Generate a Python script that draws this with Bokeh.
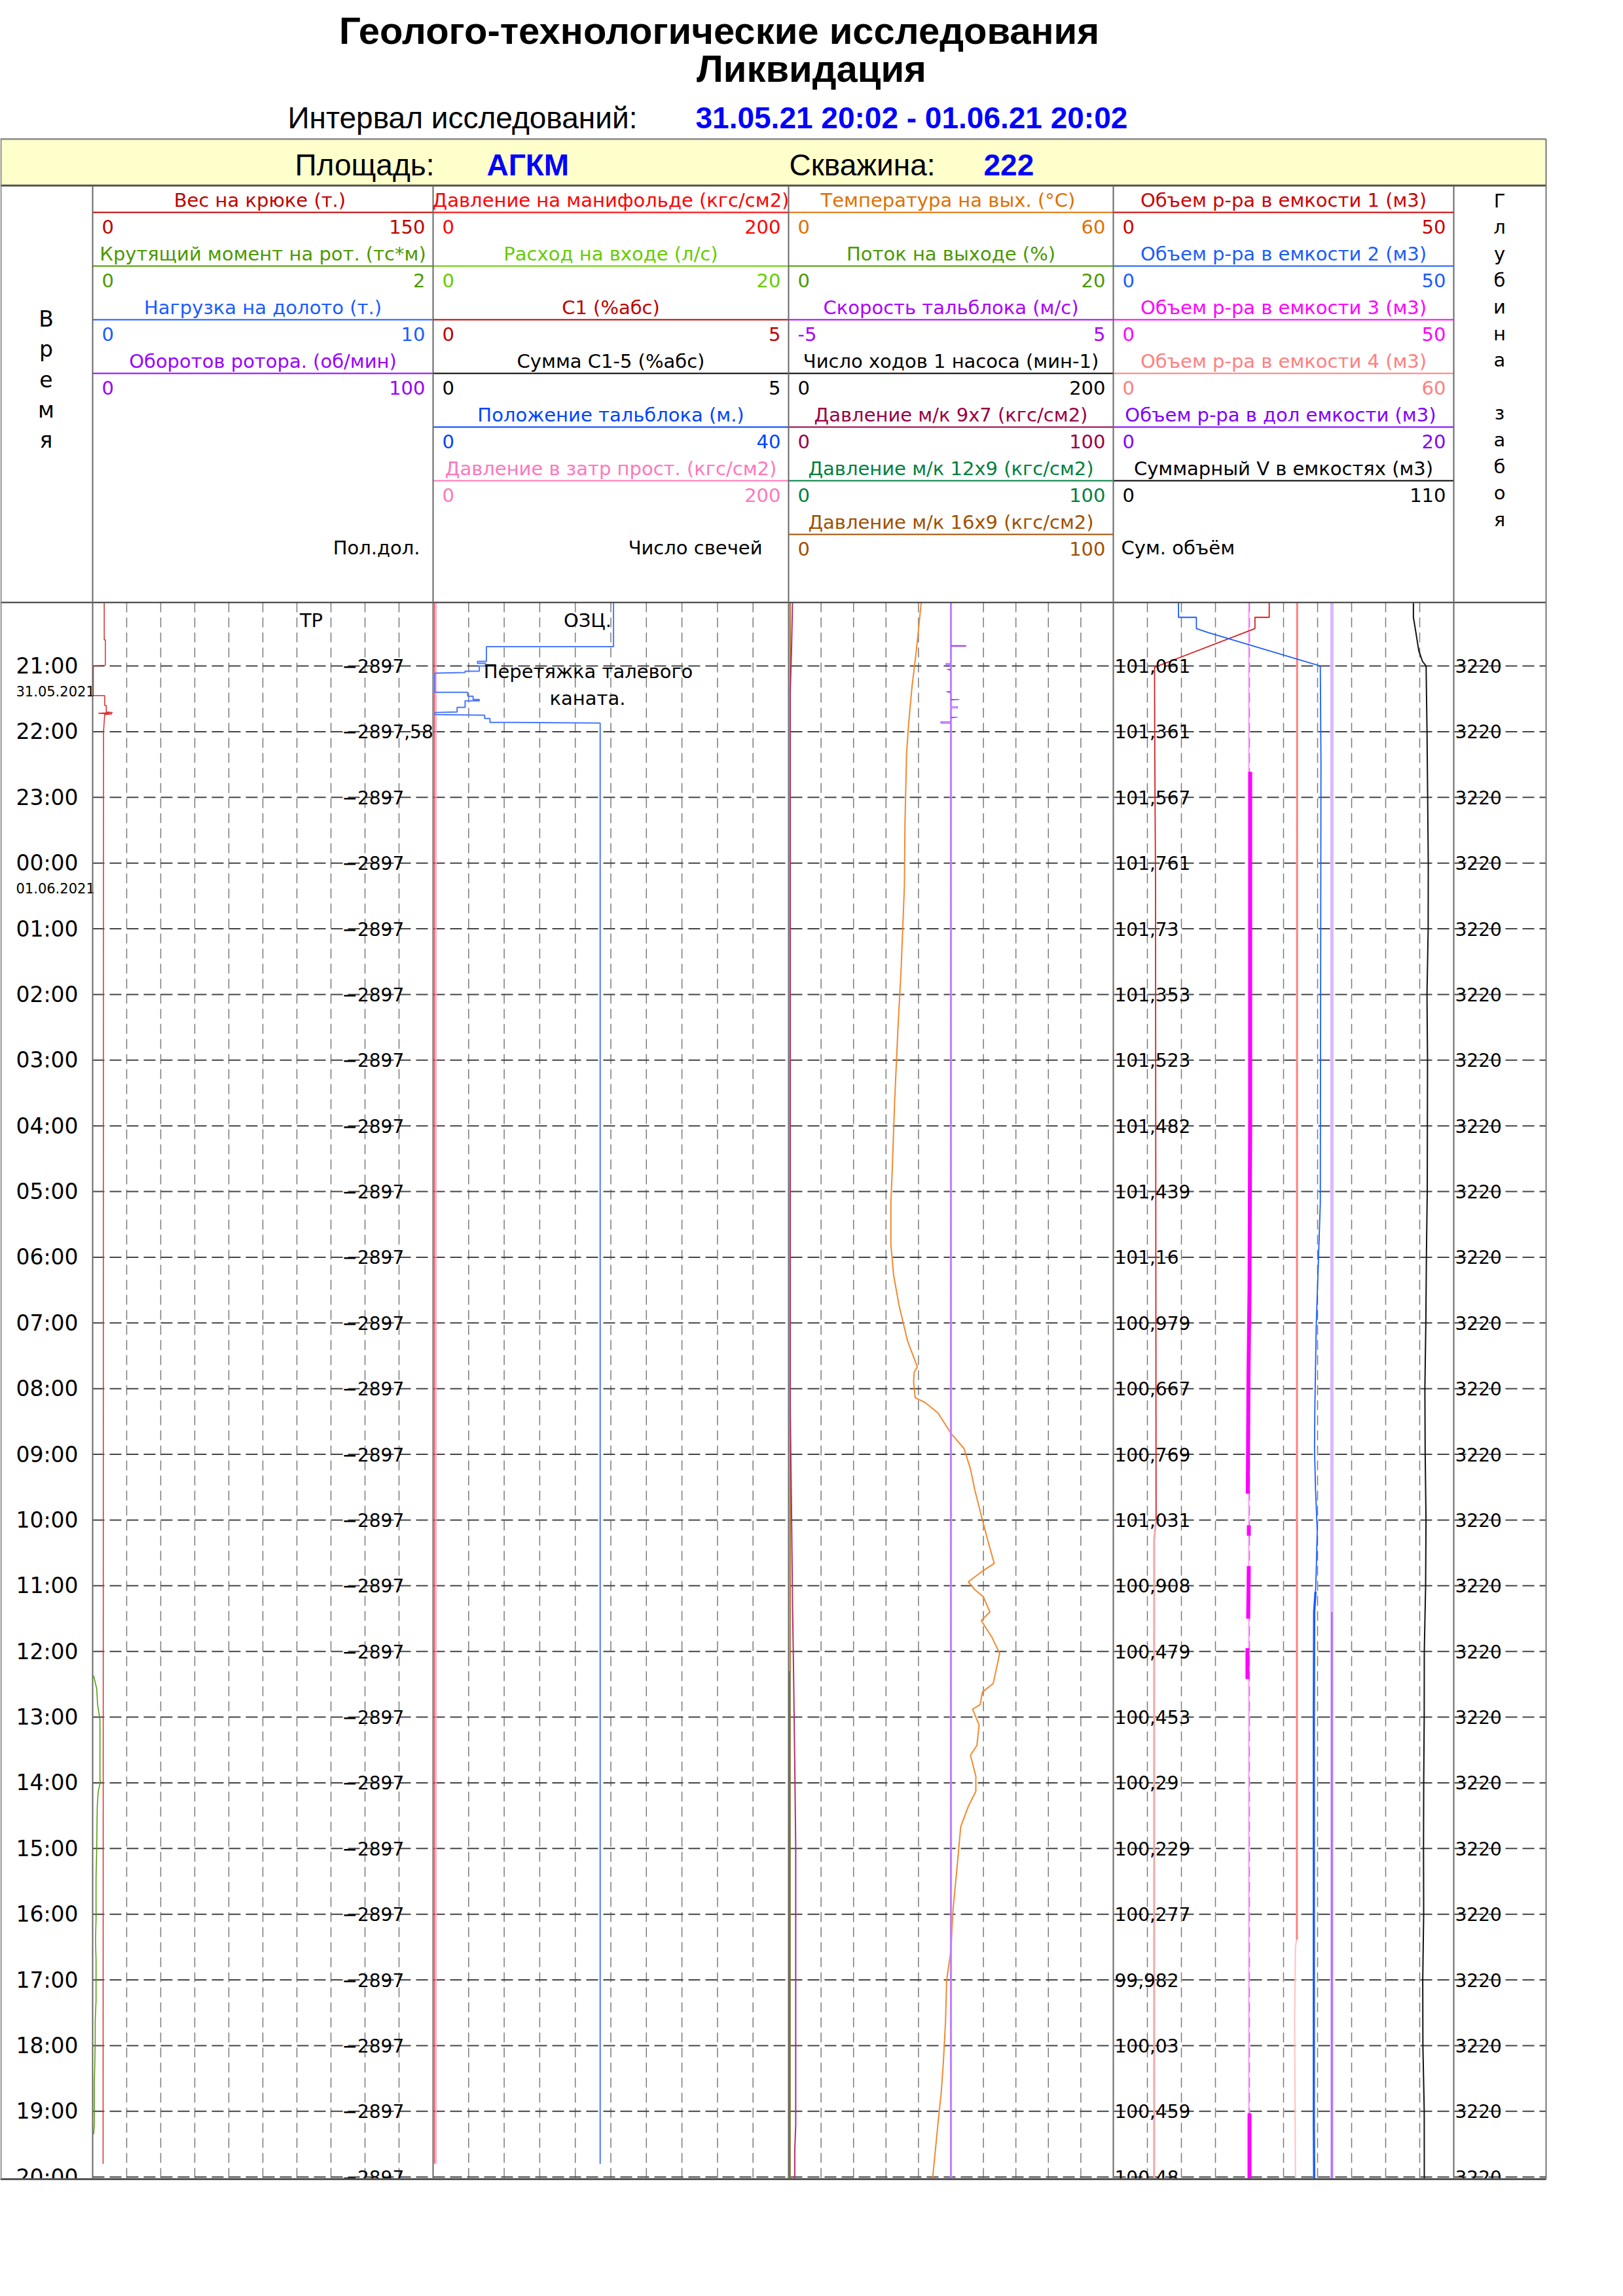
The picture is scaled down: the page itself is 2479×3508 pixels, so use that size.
from bokeh.plotting import figure
from bokeh.models import Range1d
from bokeh.embed import file_html
from bokeh.resources import INLINE
from bokeh.core.properties import value

W, H = 2479, 3508

# ---------------- data (hours counted from 20:00 31.05.2021) ----------------
hour_t = list(range(1, 25))
hour_labels = ["21:00", "22:00", "23:00", "00:00", "01:00", "02:00", "03:00", "04:00",
               "05:00", "06:00", "07:00", "08:00", "09:00", "10:00", "11:00", "12:00",
               "13:00", "14:00", "15:00", "16:00", "17:00", "18:00", "19:00", "20:00"]
date_labels = ["31.05.2021", "01.06.2021"]
date_t = [1.38, 4.38]
bit_pos = ["−2897", "−2897,58"] + ["−2897"] * 22
sum_vol = [101.061, 101.361, 101.567, 101.761, 101.73, 101.353, 101.523, 101.482,
           101.439, 101.16, 100.979, 100.667, 100.769, 101.031, 100.908, 100.479,
           100.453, 100.29, 100.229, 100.277, 99.982, 100.03, 100.459, 100.48]
depth = ["3220"] * 24

event_text = ["ТР", "ОЗЦ.", "Перетяжка талевого", "каната."]
event_t = [0.31, 0.31, 1.08, 1.49]

# header rows per track: (title, scale min, scale max, colour)
track1 = [("Вес на крюке  (т.)", 0, 150, "#c00000"),
          ("Крутящий момент на рот. (тс*м)", 0, 2, "#4c9900"),
          ("Нагрузка на долото (т.)", 0, 10, "#1a5cff"),
          ("Оборотов ротора. (об/мин)", 0, 100, "#9900ff")]
track2 = [("Давление на манифольде (кгс/см2)", 0, 200, "#ff0000"),
          ("Расход на входе (л/с)", 0, 20, "#66cc00"),
          ("C1 (%абс)", 0, 5, "#c00000"),
          ("Сумма C1-5 (%абс)", 0, 5, "#000000"),
          ("Положение тальблока (м.)", 0, 40, "#0044ff"),
          ("Давление в затр прост. (кгс/см2)", 0, 200, "#ff77bb")]
track3 = [("Температура  на вых. (°C)", 0, 60, "#e07000"),
          ("Поток на выходе (%)", 0, 20, "#4a9900"),
          ("Скорость тальблока (м/с)", -5, 5, "#aa00ff"),
          ("Число ходов 1 насоса (мин-1)", 0, 200, "#000000"),
          ("Давление м/к 9x7 (кгс/см2)", 0, 100, "#990044"),
          ("Давление м/к 12x9 (кгс/см2)", 0, 100, "#008040"),
          ("Давление м/к 16x9 (кгс/см2)", 0, 100, "#a05000")]
track4 = [("Объем р-ра в емкости 1 (м3)", 0, 50, "#cc0000"),
          ("Объем р-ра в емкости 2 (м3)", 0, 50, "#1a5cff"),
          ("Объем р-ра в емкости 3 (м3)", 0, 50, "#ff00ff"),
          ("Объем р-ра в емкости 4 (м3)", 0, 60, "#ff8080"),
          ("Объем р-ра в дол емкости  (м3)", 0, 20, "#8000ff"),
          ("Суммарный V в емкостях (м3)", 0, 110, "#000000")]
track_footer = ["Пол.дол.", "Число свечей", None, "Сум. объём"]

# curves: (time h, value)
hook = [(0.04, 5.1), (0.6, 5.1), (0.6, 5.6), (0.99, 5.6), (1.0, 0.3), (1.45, 0.3),
        (1.45, 5.3), (1.6, 5.3), (1.6, 6.0), (1.7, 6.0), (1.71, 8.8), (1.72, 2.5),
        (1.73, 8.5), (1.74, 5.3), (2.0, 4.8), (12.0, 4.7), (23.8, 4.6)]
torque = [(16.37, 0.006), (16.57, 0.024), (16.81, 0.029), (17.04, 0.043), (17.97, 0.043),
          (17.97, 0.047), (18.13, 0.033), (18.36, 0.027), (18.99, 0.024), (19.45, 0.020),
          (20.08, 0.020), (20.39, 0.017), (20.70, 0.020), (21.32, 0.020), (21.63, 0.015),
          (21.94, 0.015), (22.26, 0.013), (22.57, 0.010), (23.19, 0.010), (23.35, 0.006)]
manif = [(0.04, 0.8), (23.8, 0.8)]
annulus = [(0.04, 1.6), (23.8, 1.6)]
block_pos = [(0.04, 20.3), (0.707, 20.3), (0.707, 6.0), (0.93, 6.0), (0.93, 5.0), (0.96, 5.0),
             (0.96, 5.9), (1.0, 5.9), (1.0, 5.2), (1.08, 5.2), (1.08, 3.6), (1.10, 3.6),
             (1.11, 0.2), (1.40, 0.2), (1.40, 3.9), (1.46, 3.9), (1.46, 4.5), (1.51, 4.5),
             (1.51, 5.2), (1.53, 5.2), (1.53, 3.6), (1.63, 3.6), (1.63, 2.7), (1.70, 2.7),
             (1.71, 0.2), (1.74, 0.2), (1.75, 5.8), (1.80, 5.8), (1.80, 6.4), (1.86, 6.4),
             (1.86, 9.4), (1.87, 18.8), (23.8, 18.8)]
temperature = [(0.04, 24.5), (0.77, 23.6), (1.32, 22.8), (1.86, 22.2), (2.33, 21.8), (3.42, 21.5),
               (4.35, 21.4), (5.60, 20.8), (6.53, 20.2), (7.62, 19.6), (8.56, 19.2), (9.18, 18.9),
               (9.80, 18.9), (10.27, 19.4), (10.73, 20.4), (11.28, 22.0), (11.67, 23.8), (11.75, 23.2),
               (11.90, 23.1), (12.14, 23.4), (12.21, 25.2), (12.37, 27.6), (12.68, 30.0), (12.91, 32.4),
               (13.22, 33.6), (13.54, 34.4), (13.93, 35.6), (14.31, 36.8), (14.66, 38.0), (14.78, 35.8),
               (14.94, 33.2), (15.06, 34.4), (15.17, 36.0), (15.40, 37.2), (15.53, 35.6), (15.79, 37.6),
               (16.03, 39.0), (16.49, 37.8), (16.62, 35.8), (16.81, 35.4), (16.88, 34.0), (17.12, 35.2),
               (17.43, 34.8), (17.58, 33.6), (17.90, 34.6), (18.13, 34.6), (18.36, 33.2), (18.67, 31.8),
               (19.22, 31.2), (19.92, 30.4), (20.54, 30.0), (21.01, 29.2), (21.63, 29.0), (22.25, 28.6),
               (22.72, 28.2), (23.19, 27.6), (24.03, 26.6)]
block_speed = [(0.04, 0), (0.69, 0), (0.69, 0.46), (0.70, 0.46), (0.70, 0), (0.96, 0), (0.96, -0.15),
               (0.98, -0.15), (0.98, 0), (1.05, 0), (1.05, -0.12), (1.07, 0), (1.39, 0), (1.39, -0.14),
               (1.41, 0), (1.51, 0), (1.51, 0.26), (1.52, 0), (1.62, 0), (1.62, 0.2), (1.64, 0.2),
               (1.64, 0), (1.78, 0), (1.78, 0.2), (1.79, 0), (1.85, 0), (1.85, -0.31), (1.87, -0.31),
               (1.87, 0), (24.03, 0)]
p_9x7 = [(0.04, 1.2), (0.77, 0.9), (1.4, 0.5), (12.3, 0.5), (13.85, 0.9), (15.25, 1.2),
         (16.2, 1.5), (17.7, 1.9), (19.0, 2.2), (23.2, 2.2), (23.6, 1.9), (24.03, 1.9)]
p_12x9 = [(16.3, 0.3), (24.03, 0.3)]
p_16x9 = [(0.04, 0.5), (24.03, 0.5)]
vol1 = [(0.04, 22.9), (0.26, 22.9), (0.26, 20.8), (0.43, 20.8), (1.02, 6.05), (2.5, 6.1),
        (4.35, 6.2), (10.7, 6.25), (14.0, 6.28)]
vol1_late = [(14.0, 6.28), (14.3, 6.0), (24.03, 6.0)]
vol2 = [(0.04, 9.57), (0.26, 9.57), (0.26, 12.2), (0.43, 12.2), (0.49, 13.9), (1.0, 30.4),
        (2.48, 30.5), (9.18, 30.4), (9.96, 30.15), (11.05, 29.8), (12.29, 29.6), (12.91, 29.55),
        (13.54, 29.7), (14.16, 29.95), (14.78, 29.8), (15.09, 29.7)]
vol2_late = [(15.09, 29.7), (15.4, 29.5), (16.96, 29.45), (23.19, 29.45), (24.03, 29.5)]
vol3 = [(0.04, 19.9), (24.03, 19.9)]
vol3_bursts = [[(2.61, 20.1), (8.0, 20.1), (10.5, 20.0), (11.8, 19.85), (13.6, 19.75)],
               [(14.08, 19.9), (14.24, 19.9)],
               [(14.7, 19.9), (15.5, 19.8)],
               [(15.95, 19.7), (16.42, 19.7)],
               [(23.03, 20.0), (24.03, 20.0)]]
vol4 = [(0.04, 32.4), (20.39, 32.35)]
vol4_late = [(20.39, 32.3), (20.5, 32.1), (21.6, 31.95), (23.2, 32.05), (24.03, 32.1)]
vol_dol = [(0.04, 12.84), (24.03, 12.84)]
vol_dol_line = [(15.4, 12.84), (24.03, 12.84)]
vol_sum_start = [(0.04, 96.96), (0.26, 96.96), (0.5, 97.8), (0.77, 98.7), (0.93, 99.9)]

# ---------------- layout ----------------
FONT = "DejaVu Sans"
TX = [0, 141, 661, 1204, 1700, 2220, 2361]
Y_TOP, Y_BOT = 920, 3329
T0 = 2 / 60
PXH = (Y_BOT - Y_TOP) / 24.0

p = figure(width=W, height=H, x_range=Range1d(0, W), y_range=Range1d(H, 0),
           output_backend="svg", toolbar_location=None, min_border=0, title=None,
           x_axis_type=None, y_axis_type=None)
p.grid.visible = False
p.outline_line_color = None
p.background_fill_color = "white"
p.extra_y_ranges["t"] = Range1d(start=T0 + (H - Y_TOP) / PXH, end=T0 - Y_TOP / PXH)


def add_xr(name, lo, hi, L, R):
    k = (hi - lo) / (R - L)
    s = lo - L * k
    p.extra_x_ranges[name] = Range1d(start=s, end=s + W * k)


def txt(x, y, s, size, color="black", align="left", font=FONT, style="normal"):
    p.text(x=[x], y=[y], text=[s], text_font=value(font), text_font_size=f"{size}px",
           text_color=color, text_align=align, text_baseline="middle", text_font_style=style)


def seg(x0, y0, x1, y1, color, width, dash="solid"):
    p.segment(x0=[x0], y0=[y0], x1=[x1], y1=[y1], line_color=color, line_width=width, line_dash=dash)


def curve(pts, rng, color, width=1.5, alpha=1.0):
    t, v = zip(*pts)
    p.line(x=list(v), y=list(t), x_range_name=rng, y_range_name="t",
           line_color=color, line_width=width, line_alpha=alpha)


# titles
txt(1098, 46, "Геолого-технологические исследования", 58, style="bold", align="center", font="Liberation Sans")
txt(1239, 104, "Ликвидация", 58, style="bold", align="center", font="Liberation Sans")
txt(439, 179, "Интервал исследований:", 46, font="Liberation Sans")
txt(1062, 179, "31.05.21 20:02 - 01.06.21 20:02", 46, color="#0000ff", style="bold", font="Liberation Sans")

# yellow band
p.quad(left=[0], right=[TX[-1]], top=[212], bottom=[283], fill_color="#ffffcc", line_color=None)
seg(0, 212, TX[-1], 212, "#999999", 3)
txt(450, 251, "Площадь:", 46, font="Liberation Sans")
txt(743, 251, "АГКМ", 46, color="#0000ff", style="bold", font="Liberation Sans")
txt(1205, 251, "Скважина:", 46, font="Liberation Sans")
txt(1502, 251, "222", 46, color="#0000ff", style="bold", font="Liberation Sans")

# header of tracks
for ti, rows in enumerate([track1, track2, track3, track4]):
    L, R = TX[ti + 1], TX[ti + 2]
    for k, (name, lo, hi, col) in enumerate(rows):
        yl = 324 + 82 * k
        txt((L + R) / 2, yl - 19, name, 29, color=col, align="center")
        seg(L, yl, R, yl, col, 2)
        txt(L + 14, yl + 22, str(lo), 29, color=col)
        txt(R - 12, yl + 22, str(hi), 29, color=col, align="right")
    if track_footer[ti]:
        if ti == 3:
            txt(L + 12, 836, track_footer[ti], 29)
        else:
            txt(R - 20 if ti == 0 else R - 40, 836, track_footer[ti], 29, align="right")

for i, ch in enumerate("Время"):
    txt(70, 487 + 46.3 * i, ch, 33, align="center")
for i, ch in enumerate("Глубина забоя"):
    if ch != " ":
        txt(2290, 306 + 40.6 * i, ch, 29, align="center")

# scale ranges
add_xr("hook", 0, 150, TX[1], TX[2])
add_xr("torque", 0, 2, TX[1], TX[2])
add_xr("p200", 0, 200, TX[2], TX[3])
add_xr("pos", 0, 40, TX[2], TX[3])
add_xr("temp", 0, 60, TX[3], TX[4])
add_xr("speed", -5, 5, TX[3], TX[4])
add_xr("pmk", 0, 100, TX[3], TX[4])
add_xr("v50", 0, 50, TX[4], TX[5])
add_xr("v60", 0, 60, TX[4], TX[5])
add_xr("vdol", 0, 20, TX[4], TX[5])
add_xr("vsum", 0, 110, TX[4], TX[5])

# vertical grid in tracks 1-4
for ti in range(1, 5):
    L, R = TX[ti], TX[ti + 1]
    xs = [L + (R - L) * k / 10 for k in range(1, 10)]
    p.segment(x0=xs, y0=[Y_TOP] * 9, x1=xs, y1=[Y_BOT] * 9, line_color="#7a7a7a",
              line_width=1.5, line_dash="15 8")

# hourly lines
p.segment(x0=[TX[1]] * 24, y0=hour_t, x1=[TX[-1]] * 24, y1=hour_t, y_range_name="t",
          line_color="#444444", line_width=2, line_dash="18 8")

# curves
curve(hook, "hook", "#dd2a2a", 1.5)
curve(torque, "torque", "#4c9900", 1.5)
curve(manif, "p200", "#ff3333", 1.2)
curve(annulus, "p200", "#ff9ccf", 2.5, 0.8)
curve(block_pos, "pos", "#4a78ff", 2)
curve(p_16x9, "pmk", "#a05000", 1.5)
curve(p_12x9, "pmk", "#2a9a6a", 2)
curve(p_9x7, "pmk", "#b03070", 2)
curve(temperature, "temp", "#f08a30", 2)
curve([(0.04, 0), (24.03, 0)], "speed", "#d9b3ff", 3.5, 0.9)
curve(block_speed, "speed", "#a040ff", 1.2)
curve(vol_dol, "vdol", "#d8b8ff", 5)
curve(vol_dol_line, "vdol", "#8000ff", 1)
curve(vol4, "v60", "#ff8080", 3)
curve(vol4_late, "v60", "#ffc0c0", 2)
curve(vol3, "v50", "#ff99ff", 2)
for b in vol3_bursts:
    curve(b, "v50", "#ff00ff", 6)
curve(vol1, "v50", "#d42020", 1.8)
curve(vol1_late, "v50", "#f0a8a8", 3)
curve(vol2, "v50", "#1a5cff", 1.8)
curve(vol2_late, "v50", "#1a5cff", 3.5)
curve(vol_sum_start + list(zip(hour_t, sum_vol)) + [(24.03, sum_vol[-1])], "vsum", "#111111", 2)

# hourly labels
p.text(x=[24] * 24, y=hour_t, text=hour_labels, y_range_name="t", text_font=value(FONT),
       text_font_size="33px", text_baseline="middle", text_color="black")
p.text(x=[24] * 2, y=date_t, text=date_labels, y_range_name="t", text_font=value(FONT),
       text_font_size="21px", text_baseline="middle", text_color="black")
p.text(x=[522] * 24, y=hour_t, text=bit_pos, y_range_name="t", text_font=value(FONT),
       text_font_size="28px", text_baseline="middle", text_color="black")
sum_labels = [f"{v:.3f}".rstrip("0").rstrip(".").replace(".", ",") for v in sum_vol]
p.text(x=[1702] * 24, y=hour_t, text=sum_labels, y_range_name="t", text_font=value(FONT),
       text_font_size="28px", text_baseline="middle", text_color="black")
p.text(x=[2222] * 24, y=hour_t, text=depth, y_range_name="t", text_font=value(FONT),
       text_font_size="28px", text_baseline="middle", text_color="black")
p.text(x=[475, 897, 898, 897], y=event_t, text=event_text, y_range_name="t",
       text_font=value(FONT), text_font_size="29px", text_baseline="middle",
       text_align="center", text_color="black")

# cover below data area, frame lines
p.quad(left=[0], right=[W], top=[Y_BOT + 1], bottom=[H], fill_color="white", line_color=None)
seg(0, 283, TX[-1], 283, "#555555", 3)
seg(0, Y_TOP, TX[-1], Y_TOP, "#333333", 2)
seg(0, Y_BOT, TX[-1], Y_BOT, "#555555", 3)
seg(1, 212, 1, Y_BOT, "#888888", 2)
seg(TX[-1], 212, TX[-1], Y_BOT, "#777777", 2)
for x in TX[1:-1]:
    seg(x, 283, x, Y_BOT, "#666666", 2)

open("out.html", "w").write(file_html(p, INLINE))
